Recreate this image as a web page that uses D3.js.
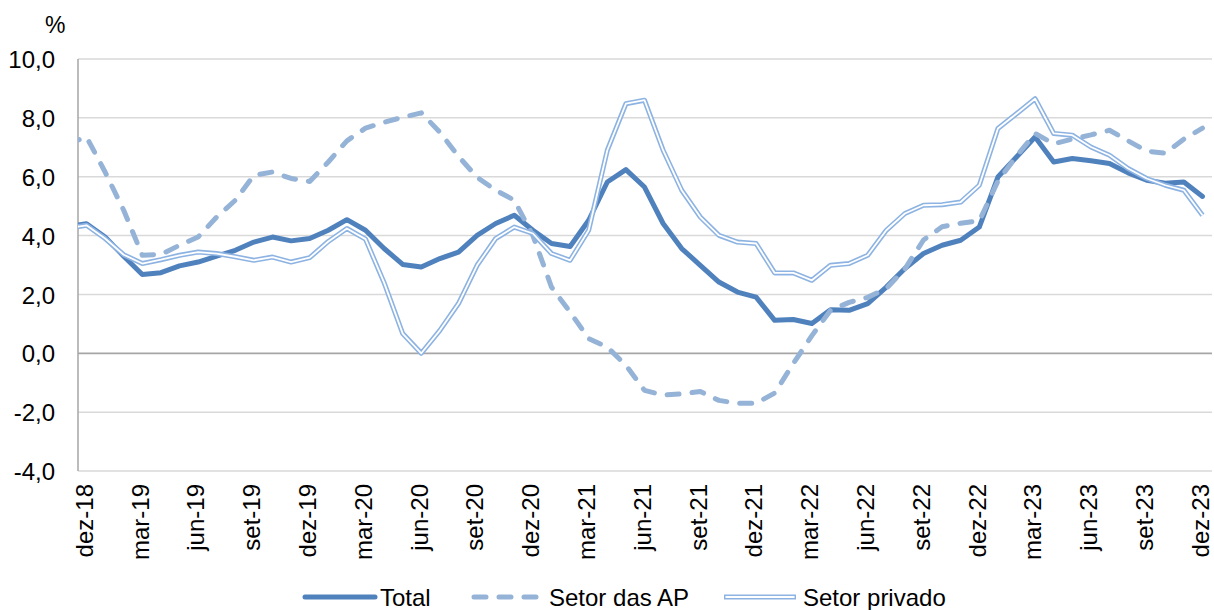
<!DOCTYPE html>
<html>
<head>
<meta charset="utf-8">
<script src="https://cdn.jsdelivr.net/npm/d3@7"></script>
<style>
    body { margin: 0; background: #fff; }
    svg text { font-family: "Liberation Sans", Arial, sans-serif; fill: #000; }
</style>
</head>
<body>
<svg id="chart" width="1214" height="610"></svg>
<script>

// months (nov-18 sits just left of the plot and gets clipped, like in the original)
const months = [
    "nov-18","dez-18",
    "jan-19","fev-19","mar-19","abr-19","mai-19","jun-19","jul-19","ago-19","set-19","out-19","nov-19","dez-19",
    "jan-20","fev-20","mar-20","abr-20","mai-20","jun-20","jul-20","ago-20","set-20","out-20","nov-20","dez-20",
    "jan-21","fev-21","mar-21","abr-21","mai-21","jun-21","jul-21","ago-21","set-21","out-21","nov-21","dez-21",
    "jan-22","fev-22","mar-22","abr-22","mai-22","jun-22","jul-22","ago-22","set-22","out-22","nov-22","dez-22",
    "jan-23","fev-23","mar-23","abr-23","mai-23","jun-23","jul-23","ago-23","set-23","out-23","nov-23","dez-23"
]

const total = [
    4.30, 4.40,
    3.95, 3.30, 2.68, 2.74, 2.97, 3.10, 3.30, 3.50, 3.78, 3.95, 3.82, 3.90,
    4.18, 4.54, 4.18, 3.56, 3.02, 2.93, 3.22, 3.44, 4.01, 4.41, 4.69, 4.18,
    3.73, 3.63, 4.52, 5.82, 6.24, 5.65, 4.41, 3.56, 2.99, 2.42, 2.08, 1.91,
    1.12, 1.15, 1.01, 1.48, 1.46, 1.69, 2.25, 2.88, 3.39, 3.67, 3.84, 4.29,
    5.99, 6.67, 7.35, 6.50, 6.62, 6.54, 6.45, 6.13, 5.88, 5.78, 5.82, 5.33
]

const setorAP = [
    7.12, 7.35,
    6.16, 4.86, 3.33, 3.36, 3.67, 3.95, 4.63, 5.20, 6.05, 6.16, 5.94, 5.84,
    6.50, 7.22, 7.65, 7.85, 8.02, 8.17, 7.51, 6.69, 5.98, 5.54, 5.20, 4.00,
    2.25, 1.40, 0.50, 0.21, -0.41, -1.26, -1.42, -1.38, -1.30, -1.60, -1.70, -1.70,
    -1.35, -0.35, 0.60, 1.46, 1.73, 1.90, 2.20, 2.87, 3.85, 4.30, 4.42, 4.50,
    5.85, 6.70, 7.47, 7.12, 7.28, 7.42, 7.58, 7.22, 6.87, 6.80, 7.28, 7.65
]

const setorPrivado = [
    4.25, 4.35,
    3.90, 3.35, 3.05, 3.18, 3.33, 3.44, 3.39, 3.28, 3.16, 3.27, 3.10, 3.25,
    3.80, 4.24, 3.88, 2.40, 0.67, 0.00, 0.78, 1.69, 2.99, 3.90, 4.29, 4.07,
    3.39, 3.16, 4.18, 6.90, 8.48, 8.60, 6.90, 5.54, 4.63, 4.01, 3.78, 3.73,
    2.73, 2.73, 2.48, 2.99, 3.05, 3.33, 4.18, 4.75, 5.03, 5.05, 5.14, 5.71,
    7.64, 8.14, 8.65, 7.47, 7.41, 7.01, 6.73, 6.28, 5.94, 5.71, 5.54, 4.69
]

const xTickLabels = ["dez-18","mar-19","jun-19","set-19","dez-19","mar-20","jun-20","set-20","dez-20",
    "mar-21","jun-21","set-21","dez-21","mar-22","jun-22","set-22","dez-22","mar-23","jun-23","set-23","dez-23"]
const yTicks = [-4, -2, 0, 2, 4, 6, 8, 10]

const seriesNames = ["Total", "Setor das AP", "Setor privado"]

// plot area
const plot = {left: 78, right: 1212, top: 59, bottom: 471}

const svg = d3.select("#chart")

const x = d3.scalePoint()
    .domain(months)
    .range([67.9, 1202.5])

const y = d3.scaleLinear()
    .domain([-4, 10])
    .range([plot.bottom, plot.top])

const fmt = d => (d < 0 ? "-" : "") + Math.abs(d).toFixed(1).replace(".", ",")

// gridlines
svg.append("g")
    .selectAll("line")
    .data(yTicks)
    .join("line")
    .attr("x1", plot.left)
    .attr("x2", plot.right)
    .attr("y1", d => y(d))
    .attr("y2", d => y(d))
    .attr("stroke", d => d === 0 ? "#a6a6a6" : "#d9d9d9")
    .attr("stroke-width", d => d === 0 ? 1.8 : 1.5)

// left axis line
svg.append("line")
    .attr("x1", plot.left).attr("x2", plot.left)
    .attr("y1", plot.top).attr("y2", plot.bottom)
    .attr("stroke", "#a6a6a6")
    .attr("stroke-width", 1.5)

// y axis labels
const yAxis = svg.append("g")
    .attr("transform", `translate(${plot.left},0)`)
    .call(d3.axisLeft(y).tickValues(yTicks).tickFormat(fmt).tickSize(0).tickPadding(23))
yAxis.select(".domain").remove()
yAxis.selectAll("text")
    .style("font-size", "24px")
    .attr("dy", "0.36em")

svg.append("text")
    .attr("x", 45)
    .attr("y", 33)
    .style("font-size", "23px")
    .text("%")

// x axis labels, rotated
const xAxis = svg.append("g")
    .attr("transform", `translate(0,${plot.bottom})`)
    .call(d3.axisBottom(x).tickValues(xTickLabels).tickSize(0))
xAxis.select(".domain").remove()
xAxis.selectAll("text")
    .style("font-size", "24px")
    .attr("text-anchor", "end")
    .attr("transform", "translate(-1.5,13) rotate(-90)")
    .attr("x", 0)
    .attr("y", 0)
    .attr("dy", "0.3em")

// lines, clipped to plot area
svg.append("clipPath")
    .attr("id", "plotClip")
    .append("rect")
    .attr("x", plot.left)
    .attr("y", 0)
    .attr("width", plot.right - plot.left)
    .attr("height", 520)

const lineGen = d3.line()
    .x((d, i) => x(months[i]))
    .y(d => y(d))

const lines = svg.append("g").attr("clip-path", "url(#plotClip)")

lines.append("path")
    .datum(total)
    .attr("d", lineGen)
    .attr("fill", "none")
    .attr("stroke", "#4f81bd")
    .attr("stroke-width", 5)
    .attr("stroke-linejoin", "round")
    .attr("stroke-linecap", "round")

lines.append("path")
    .datum(setorAP)
    .attr("d", lineGen)
    .attr("fill", "none")
    .attr("stroke", "#95b3d7")
    .attr("stroke-width", 5)
    .attr("stroke-dasharray", "12,13")
    .attr("stroke-linejoin", "round")
    .attr("stroke-linecap", "round")

// double line: wide blue stroke with a thin white one on top
lines.append("path")
    .datum(setorPrivado)
    .attr("d", lineGen)
    .attr("fill", "none")
    .attr("stroke", "#8db3e2")
    .attr("stroke-width", 5)
    .attr("stroke-linejoin", "round")
lines.append("path")
    .datum(setorPrivado)
    .attr("d", lineGen)
    .attr("fill", "none")
    .attr("stroke", "#fff")
    .attr("stroke-width", 1.8)
    .attr("stroke-linejoin", "round")

// legend
const legendX = [305, 472, 724]
const legend = svg.append("g")
    .selectAll("g")
    .data(seriesNames)
    .join("g")
    .attr("transform", (d, i) => `translate(${legendX[i]},597)`)

legend.each(function(d, i) {
    let g = d3.select(this)
    if (i === 0) {
        g.append("line").attr("x1", 0).attr("x2", 70)
            .attr("stroke", "#4f81bd").attr("stroke-width", 5).attr("stroke-linecap", "round")
    } else if (i === 1) {
        g.append("line").attr("x1", 2).attr("x2", 66)
            .attr("stroke", "#95b3d7").attr("stroke-width", 5)
            .attr("stroke-dasharray", "12,13").attr("stroke-linecap", "round")
    } else {
        g.append("line").attr("x1", 0).attr("x2", 72)
            .attr("stroke", "#8db3e2").attr("stroke-width", 5)
        g.append("line").attr("x1", 1.5).attr("x2", 70.5)
            .attr("stroke", "#fff").attr("stroke-width", 1.8)
    }
})

legend.append("text")
    .attr("x", (d, i) => [75, 77, 79][i])
    .attr("y", 9)
    .style("font-size", "24px")
    .text(d => d)

</script>
</body>
</html>
